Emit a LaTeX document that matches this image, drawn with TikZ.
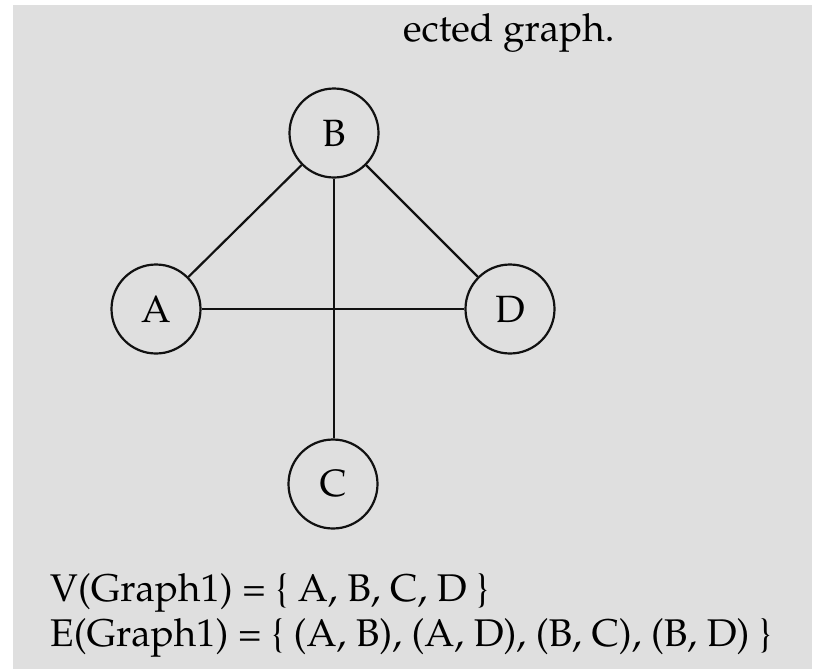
\documentclass[tikz,border=0pt]{standalone}
\usepackage[T1]{fontenc}
\usepackage{mathpazo}
\usepackage{tikz}
\usetikzlibrary{positioning}
\definecolor{pagegray}{HTML}{DFDFDF}
\definecolor{inkblack}{HTML}{111111}
\tikzset{
  vertex/.style={circle,draw=inkblack,line width=2.2pt,minimum size=89pt,inner sep=0pt,
    font=\fontsize{38}{44}\selectfont},
  edge/.style={draw=inkblack,line width=2.2pt},
  caption/.style={anchor=base west,inner sep=0pt,font=\fontsize{38.6}{45}\selectfont}
}

\begin{document}
\begin{tikzpicture}[x=1pt,y=-1pt]
\fill[white] (0,0) rectangle (813,670);
\fill[pagegray] (13,5) rectangle (812,669);
\useasboundingbox (0,0) rectangle (813,670);

\node[caption] (title) at (403,41) {ected graph.};

% vertices
\node[vertex] (B) at (334,133) {B};
\node[vertex] (A) at (156,309) {A};
\node[vertex] (D) at (510,309) {D};
\node[vertex] (C) at (333,484) {C};

% edges
\draw[edge] (A) -- (B);
\draw[edge] (B) -- (D);
\draw[edge] (A) -- (D);
\draw[edge] (B) -- (B|-C.north);

\node[caption] (vset) at (50,601) {V(Graph1) = \{ A, B, C, D \}};
\node[caption] (eset) at (50,646) {E(Graph1) = \{ (A, B), (A, D), (B, C), (B, D) \}};
\end{tikzpicture}
\end{document}
